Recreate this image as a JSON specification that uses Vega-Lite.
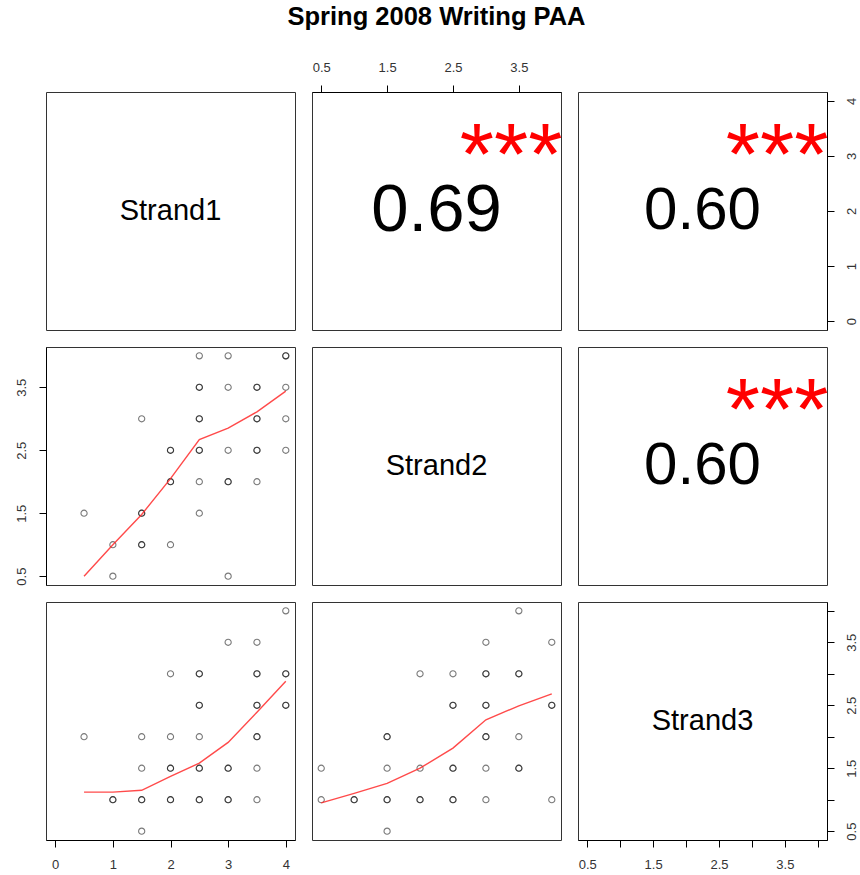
{
  "$schema": "https://vega.github.io/schema/vega-lite/v6.json",
  "background": "white",
  "padding": {"left": 14, "top": 5, "right": 5, "bottom": 5},
  "title": {"text": "Spring 2008 Writing PAA", "font": "Liberation Sans", "fontSize": 25.5, "fontWeight": "bold", "anchor": "middle", "color": "#000", "offset": 30},
  "config": {
    "view": {"stroke": "#333", "strokeWidth": 1},
    "font": "Liberation Sans",
    "axis": {"grid": false, "tickSize": 7, "tickColor": "#000", "domainColor": "#000", "domainWidth": 1, "labelFont": "Liberation Sans", "labelFontSize": 13, "labelColor": "#333", "labelPadding": 11, "labelFlush": false, "labelOverlap": false, "labelBound": false}
  },
  "bounds": "flush",
  "columns": 3,
  "spacing": {"row": 17, "column": 17},
  "resolve": {"scale": {"x": "independent", "y": "independent"}, "axis": {"x": "independent", "y": "independent"}},
  "datasets": {
    "s12": [
      {"a": 2.5, "b": 4}, {"a": 3, "b": 4}, {"a": 4, "b": 4}, {"a": 4, "b": 4},
      {"a": 2.5, "b": 3.5}, {"a": 2.5, "b": 3.5}, {"a": 3, "b": 3.5}, {"a": 3.5, "b": 3.5}, {"a": 3.5, "b": 3.5}, {"a": 4, "b": 3.5},
      {"a": 1.5, "b": 3}, {"a": 2.5, "b": 3}, {"a": 2.5, "b": 3}, {"a": 3.5, "b": 3}, {"a": 3.5, "b": 3}, {"a": 4, "b": 3},
      {"a": 2, "b": 2.5}, {"a": 2, "b": 2.5}, {"a": 2.5, "b": 2.5}, {"a": 2.5, "b": 2.5}, {"a": 3, "b": 2.5}, {"a": 3.5, "b": 2.5}, {"a": 3.5, "b": 2.5}, {"a": 4, "b": 2.5},
      {"a": 2, "b": 2}, {"a": 2, "b": 2}, {"a": 2.5, "b": 2}, {"a": 3, "b": 2}, {"a": 3, "b": 2}, {"a": 3.5, "b": 2},
      {"a": 0.5, "b": 1.5}, {"a": 1.5, "b": 1.5}, {"a": 1.5, "b": 1.5}, {"a": 2.5, "b": 1.5},
      {"a": 1, "b": 1}, {"a": 1.5, "b": 1}, {"a": 1.5, "b": 1}, {"a": 2, "b": 1},
      {"a": 1, "b": 0.5}, {"a": 3, "b": 0.5}
    ],
    "s13": [
      {"a": 4, "b": 4},
      {"a": 3, "b": 3.5}, {"a": 3.5, "b": 3.5},
      {"a": 2, "b": 3}, {"a": 2.5, "b": 3}, {"a": 2.5, "b": 3}, {"a": 3.5, "b": 3}, {"a": 3.5, "b": 3}, {"a": 4, "b": 3}, {"a": 4, "b": 3},
      {"a": 2.5, "b": 2.5}, {"a": 2.5, "b": 2.5}, {"a": 3.5, "b": 2.5}, {"a": 3.5, "b": 2.5}, {"a": 4, "b": 2.5}, {"a": 4, "b": 2.5},
      {"a": 0.5, "b": 2}, {"a": 1.5, "b": 2}, {"a": 2, "b": 2}, {"a": 2.5, "b": 2}, {"a": 3.5, "b": 2}, {"a": 3.5, "b": 2},
      {"a": 1.5, "b": 1.5}, {"a": 2, "b": 1.5}, {"a": 2, "b": 1.5}, {"a": 2.5, "b": 1.5}, {"a": 2.5, "b": 1.5}, {"a": 3, "b": 1.5}, {"a": 3, "b": 1.5}, {"a": 3.5, "b": 1.5},
      {"a": 1, "b": 1}, {"a": 1, "b": 1}, {"a": 1.5, "b": 1}, {"a": 1.5, "b": 1}, {"a": 2, "b": 1}, {"a": 2, "b": 1}, {"a": 2.5, "b": 1}, {"a": 2.5, "b": 1}, {"a": 3, "b": 1}, {"a": 3, "b": 1}, {"a": 3.5, "b": 1},
      {"a": 1.5, "b": 0.5}
    ],
    "s23": [
      {"a": 3.5, "b": 4},
      {"a": 3, "b": 3.5}, {"a": 4, "b": 3.5},
      {"a": 2, "b": 3}, {"a": 2.5, "b": 3}, {"a": 3, "b": 3}, {"a": 3, "b": 3}, {"a": 3.5, "b": 3}, {"a": 3.5, "b": 3},
      {"a": 2.5, "b": 2.5}, {"a": 2.5, "b": 2.5}, {"a": 3, "b": 2.5}, {"a": 3, "b": 2.5}, {"a": 4, "b": 2.5}, {"a": 4, "b": 2.5},
      {"a": 1.5, "b": 2}, {"a": 1.5, "b": 2}, {"a": 3, "b": 2}, {"a": 3, "b": 2}, {"a": 3.5, "b": 2},
      {"a": 0.5, "b": 1.5}, {"a": 1.5, "b": 1.5}, {"a": 2, "b": 1.5}, {"a": 2.5, "b": 1.5}, {"a": 2.5, "b": 1.5}, {"a": 3, "b": 1.5}, {"a": 3.5, "b": 1.5}, {"a": 3.5, "b": 1.5},
      {"a": 0.5, "b": 1}, {"a": 1, "b": 1}, {"a": 1, "b": 1}, {"a": 1.5, "b": 1}, {"a": 1.5, "b": 1}, {"a": 2, "b": 1}, {"a": 2, "b": 1}, {"a": 2.5, "b": 1}, {"a": 2.5, "b": 1}, {"a": 3, "b": 1}, {"a": 4, "b": 1},
      {"a": 1.5, "b": 0.5}
    ],
    "lo12": [
      {"a": 0.5, "b": 0.5}, {"a": 1, "b": 1.0}, {"a": 1.5, "b": 1.48}, {"a": 2, "b": 2.05}, {"a": 2.5, "b": 2.67}, {"a": 3, "b": 2.85}, {"a": 3.5, "b": 3.11}, {"a": 4, "b": 3.44}
    ],
    "lo13": [
      {"a": 0.5, "b": 1.12}, {"a": 1, "b": 1.12}, {"a": 1.5, "b": 1.15}, {"a": 2, "b": 1.37}, {"a": 2.5, "b": 1.58}, {"a": 3, "b": 1.91}, {"a": 3.5, "b": 2.39}, {"a": 4, "b": 2.88}
    ],
    "lo23": [
      {"a": 0.5, "b": 0.95}, {"a": 1, "b": 1.10}, {"a": 1.5, "b": 1.26}, {"a": 2, "b": 1.50}, {"a": 2.5, "b": 1.82}, {"a": 3, "b": 2.27}, {"a": 3.5, "b": 2.49}, {"a": 4, "b": 2.68}
    ]
  },
  "concat": [
    {
      "width": 249, "height": 238,
      "data": {"values": [{"label": "Strand1", "x": 2, "y": 2}]},
      "mark": {"type": "text", "fontSize": 29, "font": "Liberation Sans", "align": "center", "baseline": "middle", "color": "#000"},
      "encoding": {
        "x": {"field": "x", "type": "quantitative", "scale": {"domain": [-0.16, 4.16], "nice": false, "zero": false}, "axis": null},
        "y": {"field": "y", "type": "quantitative", "scale": {"domain": [-0.16, 4.16], "nice": false, "zero": false}, "axis": null},
        "text": {"field": "label"}
      }
    },
    {
      "width": 249, "height": 238,
      "layer": [
        {
          "data": {"values": [{"txt": "0.69", "x": 2.25, "y": 2.0}]},
          "mark": {"type": "text", "fontSize": 67, "font": "Liberation Sans", "align": "center", "baseline": "middle", "color": "#000"},
          "encoding": {
            "x": {"field": "x", "type": "quantitative", "scale": {"domain": [0.36, 4.14], "nice": false, "zero": false}, "axis": {"orient": "top", "title": null, "values": [0.5, 1, 1.5, 2, 2.5, 3, 3.5, 4], "format": ".1f", "labelExpr": "datum.value % 1 == 0.5 ? datum.label : ''"}},
            "y": {"field": "y", "type": "quantitative", "scale": {"domain": [-0.16, 4.16], "nice": false, "zero": false}, "axis": null},
            "text": {"field": "txt"}
          }
        },
        {
          "data": {"values": [{"txt": "***", "x": 3.384, "y": 3.296}]},
          "mark": {"type": "text", "fontSize": 88, "font": "Liberation Sans", "align": "center", "baseline": "middle", "color": "#ff0000", "dy": 18},
          "encoding": {
            "x": {"field": "x", "type": "quantitative"},
            "y": {"field": "y", "type": "quantitative"},
            "text": {"field": "txt"}
          }
        }
      ]
    },
    {
      "width": 249, "height": 238,
      "layer": [
        {
          "data": {"values": [{"txt": "0.60", "x": 2.25, "y": 2.0}]},
          "mark": {"type": "text", "fontSize": 60, "font": "Liberation Sans", "align": "center", "baseline": "middle", "color": "#000"},
          "encoding": {
            "x": {"field": "x", "type": "quantitative", "scale": {"domain": [0.36, 4.14], "nice": false, "zero": false}, "axis": null},
            "y": {"field": "y", "type": "quantitative", "scale": {"domain": [-0.16, 4.16], "nice": false, "zero": false}, "axis": {"orient": "right", "title": null, "values": [0, 1, 2, 3, 4], "format": "d", "labelAngle": 270, "labelAlign": "center", "labelBaseline": "top", "labelPadding": 11}},
            "text": {"field": "txt"}
          }
        },
        {
          "data": {"values": [{"txt": "***", "x": 3.384, "y": 3.296}]},
          "mark": {"type": "text", "fontSize": 88, "font": "Liberation Sans", "align": "center", "baseline": "middle", "color": "#ff0000", "dy": 18},
          "encoding": {
            "x": {"field": "x", "type": "quantitative"},
            "y": {"field": "y", "type": "quantitative"},
            "text": {"field": "txt"}
          }
        }
      ]
    },
    {
      "width": 249, "height": 238,
      "layer": [
        {
          "data": {"name": "s12"},
          "mark": {"type": "point", "shape": "circle", "size": 38, "filled": false, "stroke": "#000", "strokeWidth": 1.1, "strokeOpacity": 0.75},
          "encoding": {
            "x": {"field": "a", "type": "quantitative", "scale": {"domain": [-0.16, 4.16], "nice": false, "zero": false}, "axis": null},
            "y": {"field": "b", "type": "quantitative", "scale": {"domain": [0.36, 4.14], "nice": false, "zero": false}, "axis": {"orient": "left", "title": null, "values": [0.5, 1, 1.5, 2, 2.5, 3, 3.5, 4], "format": ".1f", "labelExpr": "datum.value % 1 == 0.5 ? datum.label : ''", "labelAngle": 270, "labelAlign": "center", "labelBaseline": "bottom"}}
          }
        },
        {
          "data": {"name": "lo12"},
          "mark": {"type": "line", "color": "#ff2a2a", "strokeWidth": 1.4, "opacity": 0.85},
          "encoding": {
            "x": {"field": "a", "type": "quantitative"},
            "y": {"field": "b", "type": "quantitative"}
          }
        }
      ]
    },
    {
      "width": 249, "height": 238,
      "data": {"values": [{"label": "Strand2", "x": 2, "y": 2}]},
      "mark": {"type": "text", "fontSize": 29, "font": "Liberation Sans", "align": "center", "baseline": "middle", "color": "#000"},
      "encoding": {
        "x": {"field": "x", "type": "quantitative", "scale": {"domain": [-0.16, 4.16], "nice": false, "zero": false}, "axis": null},
        "y": {"field": "y", "type": "quantitative", "scale": {"domain": [-0.16, 4.16], "nice": false, "zero": false}, "axis": null},
        "text": {"field": "label"}
      }
    },
    {
      "width": 249, "height": 238,
      "layer": [
        {
          "data": {"values": [{"txt": "0.60", "x": 2.25, "y": 2.25}]},
          "mark": {"type": "text", "fontSize": 60, "font": "Liberation Sans", "align": "center", "baseline": "middle", "color": "#000"},
          "encoding": {
            "x": {"field": "x", "type": "quantitative", "scale": {"domain": [0.36, 4.14], "nice": false, "zero": false}, "axis": null},
            "y": {"field": "y", "type": "quantitative", "scale": {"domain": [0.36, 4.14], "nice": false, "zero": false}, "axis": null},
            "text": {"field": "txt"}
          }
        },
        {
          "data": {"values": [{"txt": "***", "x": 3.384, "y": 3.384}]},
          "mark": {"type": "text", "fontSize": 88, "font": "Liberation Sans", "align": "center", "baseline": "middle", "color": "#ff0000", "dy": 18},
          "encoding": {
            "x": {"field": "x", "type": "quantitative"},
            "y": {"field": "y", "type": "quantitative"},
            "text": {"field": "txt"}
          }
        }
      ]
    },
    {
      "width": 249, "height": 238,
      "layer": [
        {
          "data": {"name": "s13"},
          "mark": {"type": "point", "shape": "circle", "size": 38, "filled": false, "stroke": "#000", "strokeWidth": 1.1, "strokeOpacity": 0.75},
          "encoding": {
            "x": {"field": "a", "type": "quantitative", "scale": {"domain": [-0.16, 4.16], "nice": false, "zero": false}, "axis": {"orient": "bottom", "title": null, "values": [0, 1, 2, 3, 4], "format": "d"}},
            "y": {"field": "b", "type": "quantitative", "scale": {"domain": [0.36, 4.14], "nice": false, "zero": false}, "axis": null}
          }
        },
        {
          "data": {"name": "lo13"},
          "mark": {"type": "line", "color": "#ff2a2a", "strokeWidth": 1.4, "opacity": 0.85},
          "encoding": {
            "x": {"field": "a", "type": "quantitative"},
            "y": {"field": "b", "type": "quantitative"}
          }
        }
      ]
    },
    {
      "width": 249, "height": 238,
      "layer": [
        {
          "data": {"name": "s23"},
          "mark": {"type": "point", "shape": "circle", "size": 38, "filled": false, "stroke": "#000", "strokeWidth": 1.1, "strokeOpacity": 0.75},
          "encoding": {
            "x": {"field": "a", "type": "quantitative", "scale": {"domain": [0.36, 4.14], "nice": false, "zero": false}, "axis": null},
            "y": {"field": "b", "type": "quantitative", "scale": {"domain": [0.36, 4.14], "nice": false, "zero": false}, "axis": null}
          }
        },
        {
          "data": {"name": "lo23"},
          "mark": {"type": "line", "color": "#ff2a2a", "strokeWidth": 1.4, "opacity": 0.85},
          "encoding": {
            "x": {"field": "a", "type": "quantitative"},
            "y": {"field": "b", "type": "quantitative"}
          }
        }
      ]
    },
    {
      "width": 249, "height": 238,
      "data": {"values": [{"label": "Strand3", "x": 2.25, "y": 2.25}]},
      "mark": {"type": "text", "fontSize": 29, "font": "Liberation Sans", "align": "center", "baseline": "middle", "color": "#000"},
      "encoding": {
        "x": {"field": "x", "type": "quantitative", "scale": {"domain": [0.36, 4.14], "nice": false, "zero": false}, "axis": {"orient": "bottom", "title": null, "values": [0.5, 1, 1.5, 2, 2.5, 3, 3.5, 4], "format": ".1f", "labelExpr": "datum.value % 1 == 0.5 ? datum.label : ''"}},
        "y": {"field": "y", "type": "quantitative", "scale": {"domain": [0.36, 4.14], "nice": false, "zero": false}, "axis": {"orient": "right", "title": null, "values": [0.5, 1, 1.5, 2, 2.5, 3, 3.5, 4], "format": ".1f", "labelExpr": "datum.value % 1 == 0.5 ? datum.label : ''", "labelAngle": 270, "labelAlign": "center", "labelBaseline": "top", "labelPadding": 11}},
        "text": {"field": "label"}
      }
    }
  ]
}
